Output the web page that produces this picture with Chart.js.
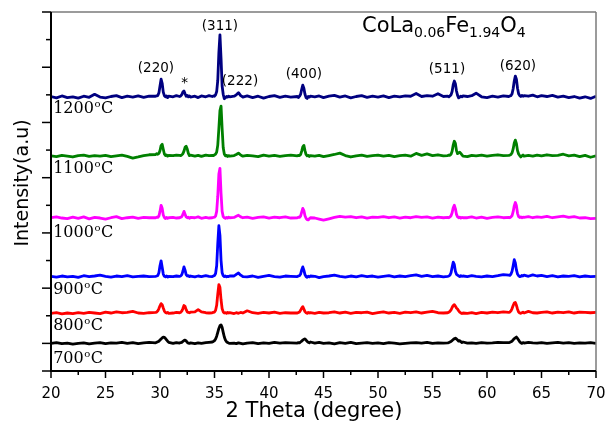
<!DOCTYPE html>
<html><head><meta charset="utf-8">
<script src="https://cdn.jsdelivr.net/npm/chart.js@4.4.1/dist/chart.umd.min.js"></script>
<style>html,body{margin:0;padding:0;background:#fff}canvas{display:block}</style>
</head><body>
<canvas id="c" width="607" height="421"></canvas>
<script>
// 2-theta grid (degrees)
const twoTheta = [
 20,20.5,21,21.5,22,22.5,23,23.5,24,24.5,25,25.5,26,26.5,27,27.5,28,28.5,29,
 29.6,29.7,29.8,29.9,30,30.1,30.2,30.3,30.4,30.5,30.6,30.7,30.8,
 31.2,31.5,
 31.8,31.9,32,32.1,32.2,32.3,32.4,32.5,32.6,32.7,32.8,
 33.2,33.5,33.8,34.2,34.5,
 34.8,34.9,35,35.1,35.2,35.3,35.4,35.5,35.6,35.7,35.8,35.9,36,36.1,36.2,36.3,36.4,
 36.8,37,37.2,37.4,37.6,
 38,38.5,39,39.5,40,40.5,41,41.5,42,
 42.6,42.7,42.8,42.9,43,43.1,43.2,43.3,43.4,43.5,43.6,43.7,43.8,
 44.2,44.6,45,45.5,46,46.5,47,47.5,48,48.5,49,49.5,50,50.5,51,51.5,52,52.5,53,53.5,54,54.5,55,55.5,56,
 56.4,56.5,56.6,56.7,56.8,56.9,57,57.1,57.2,57.3,57.4,57.5,57.6,57.7,57.8,
 58.2,58.6,59,59.5,60,60.5,61,61.5,
 62,62.1,62.2,62.3,62.4,62.5,62.6,62.7,62.8,62.9,63,63.1,63.2,63.3,63.4,
 63.8,64.2,64.6,65,65.5,66,66.5,67,67.5,68,68.5,69,69.5,70
];

const temperatures = ['700', '800', '900', '1000', '1100', '1200'];
// vertical stacking offset of each pattern (a.u.)
const offsets = [9.8, 20.8, 34.1, 55.3, 77.8, 99.2];

// intensities (a.u.) above each pattern's baseline
const i700 = [
 0.2,0.5,0.1,0.3,-0.1,0.2,0.4,0.0,0.3,0.5,0.1,0.4,0.3,0.6,0.2,0.5,0.1,0.4,0.6,
 0.4,0.6,0.8,1.0,1.4,1.8,2.2,2.5,2.4,2.0,1.5,1.0,0.6,
 0.2,0.5,
 0.3,0.5,0.6,0.9,1.2,1.4,1.1,0.6,0.3,0.2,0.4,
 0.1,0.4,0.2,0.5,0.6,
 0.7,0.9,1.2,1.8,2.8,4.2,5.6,6.6,6.9,6.0,4.2,2.5,1.4,0.8,0.5,0.3,0.2,
 0.3,0.1,0.4,0.2,0.0,
 0.3,0.5,0.1,0.4,0.2,0.6,0.3,0.5,0.4,
 0.3,0.5,0.4,0.7,1.0,1.4,1.7,1.8,1.4,0.9,0.6,0.4,0.7,
 0.3,0.6,0.2,0.4,0.0,0.5,0.2,0.6,0.1,0.3,0.5,0.2,0.4,0.1,0.5,0.3,0.0,0.2,0.4,0.5,0.3,0.6,0.2,0.4,0.3,
 0.4,0.5,0.7,0.9,1.2,1.6,1.9,2.1,1.8,1.4,1.0,1.2,0.8,0.5,0.7,
 0.3,0.4,0.2,0.5,0.3,0.4,0.6,0.5,
 0.5,0.6,0.8,1.0,1.5,1.9,2.2,2.5,2.0,1.4,0.8,0.4,0.2,0.5,0.3,
 0.6,0.4,0.3,0.5,0.2,0.4,0.6,0.3,0.5,0.2,0.4,0.3,0.5,0.2
];
const i800 = [
 0.1,0.3,-0.1,0.2,0.0,0.3,0.1,0.4,0.2,0.0,0.5,0.2,0.6,0.3,0.4,0.8,0.2,0.1,0.3,
 0.4,0.6,1.0,1.8,2.8,3.6,3.2,2.0,0.9,0.4,0.2,0.4,0.1,
 0.2,0.4,
 0.3,0.5,0.9,1.8,2.9,2.6,1.4,0.6,0.4,0.3,0.5,
 0.6,1.4,0.6,0.3,0.2,
 0.3,0.4,0.6,1.2,3.0,7.0,10.5,9.5,5.0,1.8,0.6,0.2,0.3,0.1,0.4,0.2,0.3,
 0.0,0.3,0.1,0.4,0.2,
 1.0,0.3,0.1,0.4,0.2,0.5,0.1,0.3,0.2,
 0.2,0.4,0.6,1.2,2.0,2.5,1.6,0.7,0.3,0.1,0.4,0.2,0.3,
 0.1,0.4,0.2,0.3,0.6,0.2,0.5,0.1,0.4,0.3,0.5,0.0,0.3,0.6,0.2,0.4,0.1,0.5,0.3,0.6,0.2,0.5,0.8,0.3,0.2,
 0.3,0.5,0.8,1.3,2.2,2.9,3.2,2.7,2.0,1.6,1.0,0.5,0.2,0.0,0.2,
 0.1,0.3,0.0,0.4,0.2,0.5,0.3,0.6,
 0.4,0.6,1.0,1.8,2.9,3.8,4.0,3.0,1.6,0.6,0.2,0.1,0.3,0.5,0.2,
 0.8,0.3,0.2,0.4,0.6,0.2,0.5,0.3,0.6,0.2,0.5,0.4,0.3,0.4
];
const i900 = [
 0.2,-0.1,0.3,0.0,0.2,-0.2,0.4,0.1,0.3,0.6,0.2,-0.1,0.3,0.1,0.4,0.0,0.2,0.3,0.1,
 0.2,0.3,0.5,1.5,4.0,5.8,3.5,1.0,0.2,0.0,0.3,-0.1,0.2,
 0.1,0.3,
 0.2,0.3,0.8,2.0,3.6,2.4,0.8,0.3,0.4,0.1,0.3,
 0.0,0.3,0.1,0.4,0.2,
 0.1,0.3,0.5,1.2,4.0,12.0,18.5,15.0,6.0,1.5,0.4,0.1,0.3,0.0,0.2,0.1,0.3,
 0.3,0.9,1.4,0.6,0.1,
 0.0,0.3,-0.2,0.2,0.5,0.1,-0.1,0.3,0.2,
 0.1,0.3,0.4,1.0,2.5,3.6,2.4,0.8,0.1,-0.2,0.2,0.0,0.3,
 0.2,-0.3,0.1,0.3,0.6,0.2,-0.1,0.3,0.0,0.4,0.1,0.3,-0.1,0.2,0.4,0.0,0.3,0.1,0.4,0.7,0.2,0.5,0.1,0.3,0.0,
 0.2,0.3,0.6,1.5,3.5,5.3,4.5,2.0,0.9,0.6,0.3,0.1,0.4,0.2,0.3,
 0.1,0.4,0.2,0.0,0.3,0.1,0.4,0.8,
 0.6,0.5,1.0,2.0,4.0,6.2,5.0,2.5,1.0,0.4,0.1,0.2,0.5,0.3,0.6,
 0.2,0.7,0.3,0.5,0.1,0.4,0.0,0.3,0.2,0.4,0.0,0.3,0.1,0.2
];
const i1000 = [
 0.2,0.5,0.1,-0.1,0.4,0.0,0.5,-0.2,0.3,0.1,-0.3,0.2,0.6,-0.1,0.2,0.4,0.0,0.3,0.2,
 0.2,0.4,0.3,0.8,2.5,4.7,3.6,1.2,0.3,-0.1,0.3,0.0,0.2,
 0.3,0.1,
 0.2,0.4,0.6,1.4,2.5,1.5,0.5,0.2,0.4,0.0,0.3,
 0.2,0.5,0.0,0.3,0.1,
 0.2,0.3,0.4,0.8,2.5,8.0,16.0,18.1,9.0,2.5,0.6,0.2,0.0,0.3,0.1,0.4,0.2,
 0.3,0.7,1.1,0.5,0.2,
 0.4,0.0,0.3,0.5,0.1,0.4,0.2,0.5,0.1,
 0.2,0.4,0.3,0.8,2.2,3.6,2.8,0.9,0.0,-0.5,-0.6,-0.2,0.2,
 0.1,-0.3,-0.7,-0.2,0.3,0.7,0.4,0.6,0.2,0.5,0.1,0.4,0.3,0.6,0.2,0.5,0.1,0.4,0.2,0.6,0.3,0.5,0.1,0.4,0.2,
 0.3,0.2,0.5,0.9,2.0,3.8,4.7,3.5,1.4,0.5,0.2,0.4,0.1,0.3,0.2,
 0.2,0.5,0.1,0.4,0.0,0.3,0.5,0.2,
 0.3,0.2,0.5,1.0,2.4,4.5,5.7,4.6,1.8,0.6,0.3,0.5,0.2,0.4,0.3,
 0.6,0.2,0.5,0.3,0.7,0.2,0.5,0.8,0.3,0.6,0.1,0.2,-0.1,0.0
];
const i1100 = [
 0.1,-0.2,0.3,0.0,-0.3,0.2,0.4,-0.1,0.2,0.0,0.3,-0.2,0.1,0.4,-0.1,-0.7,-0.3,0.2,0.5,
 0.6,0.9,0.7,1.0,2.0,3.8,4.3,2.5,0.8,0.2,0.4,0.0,0.3,
 0.2,0.4,
 0.3,0.2,0.5,0.9,1.8,3.2,3.6,2.6,1.0,0.2,0.4,
 0.0,0.3,-0.1,0.4,0.2,
 0.3,0.2,0.5,0.7,1.5,4.0,10.0,16.5,18.1,10.0,3.0,0.8,0.1,0.3,-0.1,0.2,0.0,
 0.2,0.6,1.1,0.4,0.0,
 0.3,0.1,-0.2,0.4,0.0,0.3,-0.1,0.2,0.4,
 0.1,0.3,0.2,0.6,1.8,3.4,3.9,2.0,0.6,0.1,0.3,-0.1,0.2,
 0.0,0.3,-0.2,0.2,0.6,1.1,0.2,-0.3,0.1,0.4,-0.1,0.2,0.4,0.0,0.3,-0.2,0.2,0.4,0.0,1.0,0.3,0.8,0.2,0.5,0.1,
 0.2,0.4,0.3,0.7,1.8,4.0,5.4,4.6,2.0,0.9,1.2,1.4,1.0,0.5,0.0,
 -0.2,0.3,0.1,0.4,0.0,0.3,0.5,0.2,
 0.3,0.4,0.6,1.2,2.6,4.8,5.8,4.5,2.0,0.8,0.2,-0.3,0.1,0.4,0.0,
 0.3,0.0,0.4,0.1,0.5,0.2,0.3,0.7,0.1,0.4,-0.2,0.3,-0.4,0.1
];
const i1200 = [
 0.2,-0.3,0.4,-0.2,0.1,-0.4,0.3,-0.1,1.0,0.0,-0.3,0.2,0.5,-0.2,0.3,0.0,0.4,-0.1,0.3,
 0.3,0.4,0.6,1.5,4.0,6.5,5.0,1.8,0.5,0.1,0.4,-0.2,0.3,
 0.1,0.5,
 0.2,0.4,0.9,1.8,2.2,1.2,0.3,0.6,0.1,0.4,0.0,
 0.3,-0.2,0.4,0.1,0.5,
 0.2,0.4,0.3,0.8,2.0,6.0,16.0,22.5,14.0,4.0,1.0,-0.6,-0.3,0.2,0.0,0.3,0.1,
 0.3,0.8,1.6,0.5,0.0,
 0.4,-0.2,0.3,-0.4,0.2,0.5,-0.1,0.3,0.0,
 0.2,-0.2,0.3,1.0,2.8,4.3,3.2,1.0,-0.2,-0.5,0.2,0.0,0.3,
 0.1,0.4,-0.2,0.3,0.6,0.0,0.4,-0.3,0.2,0.5,-0.1,0.3,0.0,0.4,-0.2,0.3,0.1,0.4,0.3,1.3,0.2,0.5,0.3,1.2,0.2,
 0.3,0.1,0.4,0.8,2.0,4.5,5.8,4.8,2.2,0.6,-0.3,0.0,0.3,0.1,0.4,
 0.2,0.5,1.4,0.1,-0.2,0.3,0.0,0.4,
 0.2,0.4,0.5,1.2,3.0,5.8,7.6,6.5,3.2,1.2,0.5,0.2,0.6,0.3,0.5,
 0.3,0.7,0.1,0.5,0.2,0.6,0.0,0.3,-0.2,0.2,-0.4,0.1,-0.5,0.3
];

const peakLabels = ['(220)', '*', '(311)', '(222)', '(400)', '(511)', '(620)'];
const xTickValues = [20, 25, 30, 35, 40, 45, 50, 55, 60, 65, 70];

const series = [i700, i800, i900, i1000, i1100, i1200];
const colors = ['#000000', '#ff0000', '#0000ff', '#ff00ff', '#008000', '#000080'];

const datasets = series.map((vals, k) => ({
  label: temperatures[k] + '°C',
  data: twoTheta.map((t, i) => ({ x: t, y: offsets[k] + vals[i] })),
  borderColor: colors[k],
  borderWidth: 2.8,
  pointRadius: 0,
  tension: 0,
  fill: false,
  borderJoinStyle: 'round'
})).reverse();

// label anchors in data coordinates [2theta, a.u.]
const peakAnchors = [[29.63, 109.7], [32.25, 104.0], [35.5, 124.9], [37.34, 105], [43.2, 107.5], [56.33, 109], [62.84, 110.3]];
const tempAnchorsY = [5.1, 17.0, 30.1, 50.7, 73.9, 95.6];

const decor = {
  id: 'decor',
  afterDraw(chart) {
    const { ctx, chartArea: a, scales: { x, y } } = chart;
    ctx.save();
    const line = (x1, y1, x2, y2) => { ctx.beginPath(); ctx.moveTo(x1, y1); ctx.lineTo(x2, y2); ctx.stroke(); };
    // frame (top/right grey)
    ctx.strokeStyle = '#7a7a7a'; ctx.lineWidth = 1.5;
    line(a.left, a.top, a.right, a.top);
    line(a.right, a.top, a.right, a.bottom);
    // axes
    ctx.strokeStyle = '#000'; ctx.lineWidth = 2;
    line(a.left, a.top, a.left, a.bottom + 1);
    line(a.left - 1, a.bottom, a.right, a.bottom);
    ctx.lineWidth = 1.5;
    for (let v = 20; v <= 70.01; v += 2.5) {
      const px = x.getPixelForValue(v);
      const len = (Math.abs(v % 5) < 0.01) ? 7 : 4;
      line(px, a.bottom, px, a.bottom + len);
    }
    for (let k = 0; k <= 13; k++) {
      const py = y.getPixelForValue(k * 10);
      const len = (k % 2 === 1 || k === 0) ? 9 : 5;
      line(a.left - len, py, a.left, py);
    }
    ctx.fillStyle = '#000';
    // peak labels
    ctx.font = '13.5px "DejaVu Sans"';
    ctx.textAlign = 'center'; ctx.textBaseline = 'middle';
    peakLabels.forEach((t, i) => {
      const [px, py] = peakAnchors[i];
      ctx.fillText(t, x.getPixelForValue(px), y.getPixelForValue(py));
    });
    // temperature labels
    ctx.textAlign = 'left'; ctx.textBaseline = 'alphabetic';
    temperatures.forEach((t, i) => {
      let cx = x.getPixelForValue(20.2);
      const by = y.getPixelForValue(tempAnchorsY[i]) + 6;
      ctx.font = '16px "DejaVu Serif"';
      ctx.fillText(t, cx, by);
      cx += ctx.measureText(t).width;
      ctx.font = '10px "DejaVu Serif"';
      ctx.fillText('o', cx + 0.5, by - 6);
      cx += ctx.measureText('o').width + 1;
      ctx.font = '16px "DejaVu Serif"';
      ctx.fillText('C', cx, by);
    });
    // formula title
    {
      let cx = x.getPixelForValue(48.53);
      const by = y.getPixelForValue(122.8);
      const parts = [['CoLa', 0], ['0.06', 1], ['Fe', 0], ['1.94', 1], ['O', 0], ['4', 1]];
      parts.forEach(([s, sub]) => {
        ctx.font = sub ? '14px "DejaVu Sans"' : '21px "DejaVu Sans"';
        ctx.fillText(s, cx, by + (sub ? 5 : 0));
        cx += ctx.measureText(s).width;
      });
    }
    // axis titles
    ctx.font = '21px "DejaVu Sans"';
    ctx.textAlign = 'center'; ctx.textBaseline = 'alphabetic';
    ctx.fillText('2 Theta (degree)', 314, 417);
    ctx.save();
    ctx.translate(28, 183);
    ctx.rotate(-Math.PI / 2);
    ctx.font = '19px "DejaVu Sans"';
    ctx.fillText('Intensity(a.u)', 0, 0);
    ctx.restore();
    ctx.restore();
  }
};

new Chart(document.getElementById('c'), {
  type: 'line',
  data: { datasets },
  options: {
    responsive: false,
    animation: false,
    devicePixelRatio: 1,
    layout: { padding: { top: 12, right: 11, left: 0, bottom: 0 } },
    plugins: { legend: { display: false }, tooltip: { enabled: false }, title: { display: false } },
    scales: {
      x: {
        type: 'linear', min: 20, max: 70,
        afterBuildTicks(s) { s.ticks = xTickValues.map(v => ({ value: v })); },
        ticks: { font: { family: 'DejaVu Sans', size: 15 }, color: '#000', padding: 7, maxRotation: 0, autoSkip: false },
        grid: { drawOnChartArea: false, drawTicks: true, tickLength: 7, color: 'rgba(0,0,0,0)' },
        border: { display: false },
        afterFit(s) { s.height = 50; s.paddingLeft = 0; s.paddingRight = 0; }
      },
      y: {
        type: 'linear', min: 0, max: 130,
        ticks: { display: false, stepSize: 10 },
        grid: { drawOnChartArea: false, drawTicks: false },
        border: { display: false },
        afterFit(s) { s.width = 51; }
      }
    }
  },
  plugins: [decor]
});
</script>
</body></html>
